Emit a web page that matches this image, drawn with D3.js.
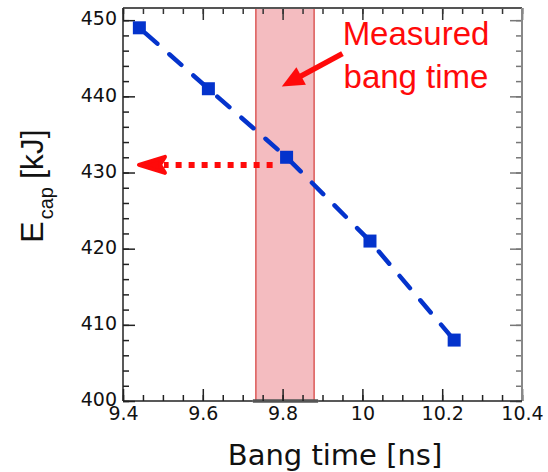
<!DOCTYPE html>
<html>
<head>
<meta charset="utf-8">
<script src="https://cdn.jsdelivr.net/npm/d3@7"></script>
<style>
  html, body { margin: 0; padding: 0; background: #fff; }
  svg { display: block; }
</style>
</head>
<body>
<svg id="chart" width="548" height="472"></svg>
<script>
// ---- data ----
const bangTime = [9.441, 9.614, 9.810, 10.019, 10.230];   // ns
const ecap     = [449, 441, 432, 421, 408];               // kJ
const xTickLabels = [9.4, 9.6, 9.8, 10, 10.2, 10.4];
const yTickLabels = [400, 410, 420, 430, 440, 450];
const xDomain = [9.4, 10.4];
const yDomain = [400, 451.6];
const measuredBand = [9.733, 9.879];       // measured bang time window (ns)
const inferredEcap = 431;
const dottedArrowX = [9.775, 9.44];        // from, to (ns)
const calloutArrow = { from: [9.950, 445.6], to: [9.798, 441.3] };
const annotationLines = ["Measured", "bang time"];

// ---- layout ----
const svg = d3.select("#chart");
const x = d3.scaleLinear().domain(xDomain).range([123, 522]);
const y = d3.scaleLinear().domain(yDomain).range([401, 8]);

const blue = "#0433cc";
const red = "#ff0a0a";

// measured band
svg.append("rect")
  .attr("x", x(measuredBand[0]))
  .attr("y", y(yDomain[1]))
  .attr("width", x(measuredBand[1]) - x(measuredBand[0]))
  .attr("height", y(yDomain[0]) - y(yDomain[1]))
  .attr("fill", "#f4bcc0")
  .attr("stroke", "#dc5a58")
  .attr("stroke-width", 1.5);

// gray bar at bottom of band
svg.append("line")
  .attr("x1", x(measuredBand[0]) - 3)
  .attr("x2", x(measuredBand[1]) + 4)
  .attr("y1", y(yDomain[0]))
  .attr("y2", y(yDomain[0]))
  .attr("stroke", "#555")
  .attr("stroke-width", 3.5);

// ---- axes ----
const fontTick = "'DejaVu Sans', sans-serif";
const xMinor = x.ticks(20);
const yMinor = d3.range(yDomain[0], yDomain[1], 2);

function styleAxis(g, color) {
  g.selectAll(".domain").remove();
  g.selectAll(".tick line").attr("stroke", color).attr("stroke-width", 1.5);
  g.selectAll("text").attr("font-family", fontTick).attr("font-size", 19).attr("fill", "#111");
}

// bottom
svg.append("g").attr("transform", `translate(0,${y(yDomain[0])})`)
  .call(d3.axisBottom(x).tickValues(xMinor).tickSizeInner(-6).tickSizeOuter(0).tickFormat(""))
  .call(g => styleAxis(g, "#222"));
svg.append("g").attr("transform", `translate(0,${y(yDomain[0])})`)
  .call(d3.axisBottom(x).tickValues(xTickLabels).tickSizeInner(-12).tickSizeOuter(0).tickPadding(6).tickFormat(d => String(d)))
  .call(g => styleAxis(g, "#222"));
// top
svg.append("g").attr("transform", `translate(0,${y(yDomain[1])})`)
  .call(d3.axisTop(x).tickValues(xMinor).tickSizeInner(-6).tickSizeOuter(0).tickFormat(""))
  .call(g => styleAxis(g, "#333"));
svg.append("g").attr("transform", `translate(0,${y(yDomain[1])})`)
  .call(d3.axisTop(x).tickValues(xTickLabels).tickSizeInner(-12).tickSizeOuter(0).tickFormat(""))
  .call(g => styleAxis(g, "#333"));
// left
svg.append("g").attr("transform", `translate(${x(xDomain[0])},0)`)
  .call(d3.axisLeft(y).tickValues(yMinor).tickSizeInner(-6).tickSizeOuter(0).tickFormat(""))
  .call(g => styleAxis(g, "#222"));
svg.append("g").attr("transform", `translate(${x(xDomain[0])},0)`)
  .call(d3.axisLeft(y).tickValues(yTickLabels).tickSizeInner(-12).tickSizeOuter(0).tickPadding(6).tickFormat(d => String(d)))
  .call(g => { styleAxis(g, "#222"); g.selectAll("text").attr("dy", "0.25em"); });
// right
svg.append("g").attr("transform", `translate(${x(xDomain[1])},0)`)
  .call(d3.axisRight(y).tickValues(yMinor).tickSizeInner(-6).tickSizeOuter(0).tickFormat(""))
  .call(g => styleAxis(g, "#777"));
svg.append("g").attr("transform", `translate(${x(xDomain[1])},0)`)
  .call(d3.axisRight(y).tickValues(yTickLabels).tickSizeInner(-12).tickSizeOuter(0).tickFormat(""))
  .call(g => styleAxis(g, "#777"));

// frame
const x0 = x(xDomain[0]), x1 = x(xDomain[1]), y0 = y(yDomain[0]), y1 = y(yDomain[1]);
svg.append("line").attr("x1", x0).attr("x2", x1).attr("y1", y1).attr("y2", y1).attr("stroke", "#555").attr("stroke-width", 2);
svg.append("line").attr("x1", x1).attr("x2", x1).attr("y1", y1).attr("y2", y0).attr("stroke", "#888").attr("stroke-width", 2);
svg.append("line").attr("x1", x0).attr("x2", x0).attr("y1", y1).attr("y2", y0).attr("stroke", "#222").attr("stroke-width", 1.5);
svg.append("line").attr("x1", x0).attr("x2", x(measuredBand[0]) - 3).attr("y1", y0).attr("y2", y0).attr("stroke", "#222").attr("stroke-width", 1.5);
svg.append("line").attr("x1", x(measuredBand[1]) + 4).attr("x2", x1).attr("y1", y0).attr("y2", y0).attr("stroke", "#222").attr("stroke-width", 1.5);

// ---- data line + markers ----
const pts = bangTime.map((t, i) => [t, ecap[i]]);
svg.append("path")
  .datum(pts)
  .attr("d", d3.line().x(d => x(d[0])).y(d => y(d[1])))
  .attr("fill", "none")
  .attr("stroke", blue)
  .attr("stroke-width", 4.5)
  .attr("stroke-linecap", "round")
  .attr("stroke-dasharray", "16,16")
  .attr("stroke-dashoffset", -8);

svg.append("g").selectAll("rect").data(pts).join("rect")
  .attr("x", d => x(d[0]) - 6.5)
  .attr("y", d => y(d[1]) - 6.5)
  .attr("width", 13)
  .attr("height", 13)
  .attr("fill", blue);

// ---- dotted arrow ----
const ay = y(inferredEcap);
const tipX = x(dottedArrowX[1]);
svg.append("line")
  .attr("x1", x(dottedArrowX[0]))
  .attr("x2", tipX + 25)
  .attr("y1", ay).attr("y2", ay)
  .attr("stroke", red)
  .attr("stroke-width", 6)
  .attr("stroke-dasharray", "6,7");
svg.append("path")
  .attr("d", `M${tipX},${ay} L${tipX + 26},${ay - 8} L${tipX + 21},${ay} L${tipX + 26},${ay + 8} Z`)
  .attr("fill", red)
  .attr("stroke", red)
  .attr("stroke-width", 4)
  .attr("stroke-linejoin", "round");

// ---- callout arrow ----
const cs = [x(calloutArrow.from[0]), y(calloutArrow.from[1])];
const ct = [x(calloutArrow.to[0]), y(calloutArrow.to[1])];
const ang = Math.atan2(ct[1] - cs[1], ct[0] - cs[0]);
const hl = 22, hw = 10;
const bx = ct[0] - hl * Math.cos(ang), by = ct[1] - hl * Math.sin(ang);
svg.append("line")
  .attr("x1", cs[0]).attr("y1", cs[1])
  .attr("x2", bx + 3 * Math.cos(ang)).attr("y2", by + 3 * Math.sin(ang))
  .attr("stroke", red).attr("stroke-width", 5.5);
svg.append("path")
  .attr("d", `M${ct[0]},${ct[1]} L${bx + hw * Math.sin(ang)},${by - hw * Math.cos(ang)} L${bx - hw * Math.sin(ang)},${by + hw * Math.cos(ang)} Z`)
  .attr("fill", red);

// annotation text
svg.append("g").selectAll("text").data(annotationLines).join("text")
  .attr("x", 416)
  .attr("y", (d, i) => 45 + i * 43)
  .attr("text-anchor", "middle")
  .attr("font-family", "'Liberation Sans', Arial, sans-serif")
  .attr("font-size", 33)
  .attr("fill", red)
  .text(d => d);

// ---- axis titles ----
svg.append("text")
  .attr("x", 335).attr("y", 465)
  .attr("text-anchor", "middle")
  .attr("font-family", fontTick)
  .attr("font-size", 29)
  .attr("fill", "#111")
  .text("Bang time [ns]");

const yt = svg.append("text")
  .attr("transform", "translate(43,186) rotate(-90)")
  .attr("text-anchor", "middle")
  .attr("font-family", "'Liberation Sans', Arial, sans-serif")
  .attr("font-size", 32)
  .attr("fill", "#111");
yt.append("tspan").text("E");
yt.append("tspan").attr("font-size", 20).attr("dy", 10).attr("dx", 2).text("cap");
yt.append("tspan").attr("dy", -10).attr("dx", 8).text("[kJ]");
</script>
</body>
</html>
